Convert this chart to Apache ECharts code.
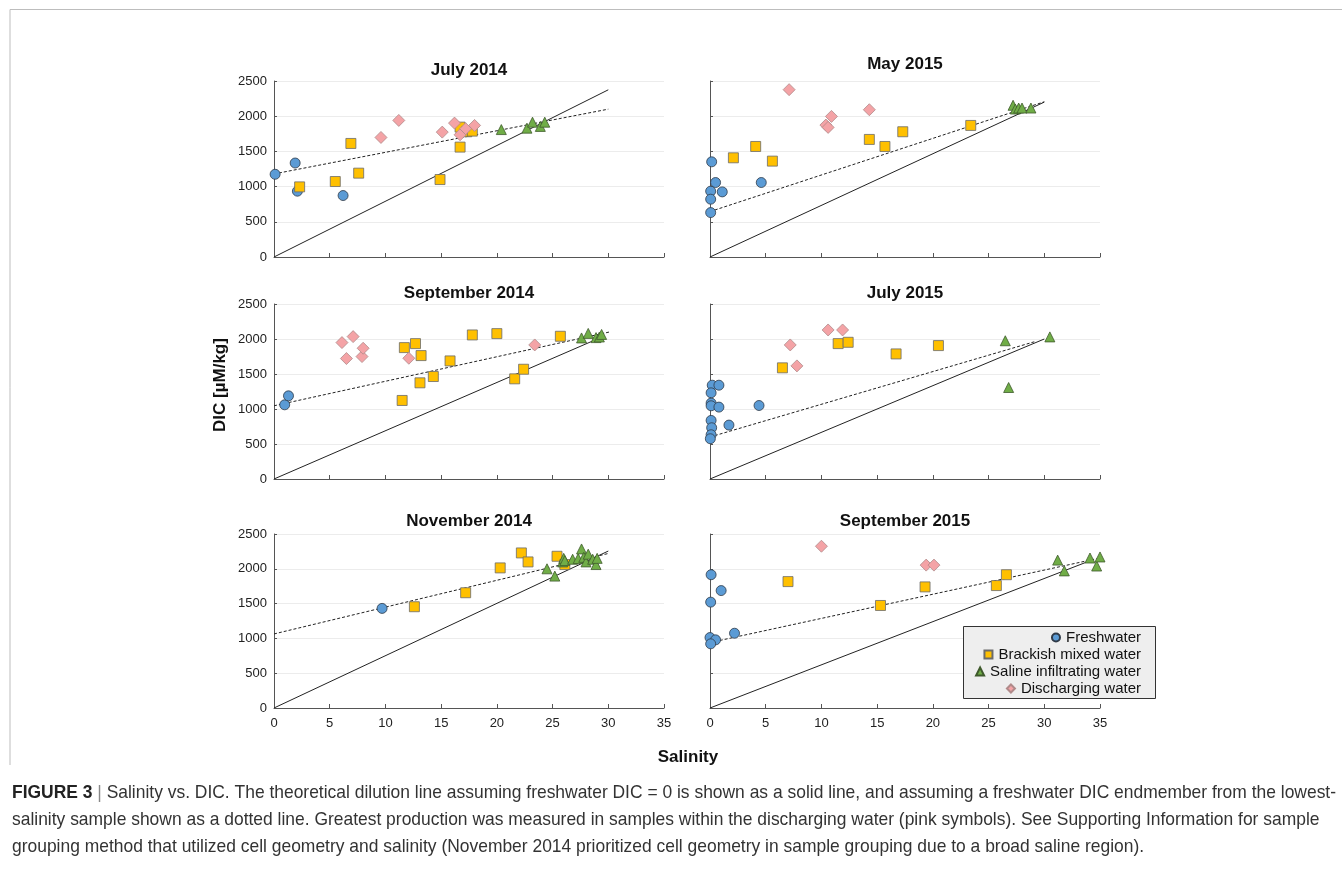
<!DOCTYPE html>
<html>
<head>
<meta charset="utf-8">
<title>Salinity vs. DIC</title>
<script src="https://cdn.jsdelivr.net/npm/echarts@6/dist/echarts.min.js"></script>
<style>
  html, body { margin: 0; padding: 0; background: #fff; }
  #chart { width: 1342px; height: 882px; }
</style>
</head>
<body>
<div id="chart"></div>
<script>
// panel titles, in grid order (left/right, top to bottom)
const panels = ['July 2014', 'May 2015', 'September 2014', 'July 2015', 'November 2014', 'September 2015'];
const groups = ['Freshwater', 'Brackish mixed water', 'Saline infiltrating water', 'Discharging water'];
const xTicks = [0, 5, 10, 15, 20, 25, 30, 35];
const yTicks = [0, 500, 1000, 1500, 2000, 2500];

// [salinity, DIC µM/kg]
const fresh = [
  [[0.1, 1175], [1.9, 1335], [2.1, 935], [6.2, 873]],
  [[0.15, 1352], [0.5, 1058], [0.06, 935], [1.1, 925], [0.06, 821], [0.06, 631], [4.6, 1058]],
  [[0.96, 1060], [1.3, 1188]],
  [[0.2, 1340], [0.8, 1340], [0.1, 1231], [0.1, 1084], [0.1, 1046], [0.8, 1027], [4.4, 1050],
   [0.1, 837], [0.15, 732], [1.7, 770], [0.1, 632], [0.03, 575]],
  [[9.7, 1431]],
  [[0.1, 1915], [1.0, 1687], [0.06, 1521], [0, 1012], [0.5, 979], [0.06, 922], [2.2, 1074]]
];
const brackish = [
  [[2.3, 996], [5.5, 1072], [6.9, 1613], [7.6, 1191], [14.9, 1100], [16.7, 1561], [16.7, 1845], [17.3, 1779], [17.8, 1788]],
  [[2.1, 1409], [4.1, 1570], [5.6, 1362], [14.3, 1670], [15.7, 1570], [17.3, 1779], [23.4, 1869]],
  [[11.5, 1122], [11.7, 1877], [12.7, 1934], [13.1, 1374], [13.2, 1763], [14.3, 1464], [15.8, 1687],
   [17.8, 2058], [20.0, 2077], [21.6, 1431], [22.4, 1568], [25.7, 2039]],
  [[6.5, 1588], [11.5, 1934], [12.4, 1953], [16.7, 1787], [20.5, 1906]],
  [[12.6, 1455], [17.2, 1656], [20.3, 2013], [22.2, 2228], [22.8, 2099], [25.4, 2180], [26.1, 2061]],
  [[7.0, 1816], [15.3, 1473], [19.3, 1740], [25.7, 1759], [26.6, 1915]]
];
const saline = [
  [[20.4, 1810], [22.7, 1830], [23.2, 1915], [23.9, 1855], [24.3, 1915]],
  [[27.2, 2155], [27.4, 2102], [27.7, 2116], [28.0, 2116], [28.8, 2116]],
  [[27.6, 2015], [28.2, 2080], [28.9, 2020], [29.2, 2029], [29.4, 2065]],
  [[26.5, 1975], [30.5, 2030], [26.8, 1307]],
  [[24.5, 2000], [25.2, 1895], [25.9, 2099], [26.0, 2150], [26.1, 2118], [26.8, 2137], [27.3, 2147],
   [27.6, 2285], [27.8, 2165], [28.0, 2099], [28.2, 2210], [28.6, 2137], [28.9, 2061], [29.0, 2150]],
  [[31.2, 2125], [31.8, 1970], [34.1, 2155], [34.7, 2040], [35.0, 2170]]
];
const discharging = [
  [[9.6, 1698], [11.2, 1940], [15.1, 1774], [16.2, 1902], [16.7, 1736], [17.2, 1822], [18.0, 1869]],
  [[7.1, 2377], [10.4, 1874], [10.6, 1841], [10.9, 1997], [14.3, 2092]],
  [[6.1, 1949], [6.5, 1721], [7.1, 2034], [7.9, 1749], [8.0, 1868], [12.1, 1725], [23.4, 1915]],
  [[7.2, 1915], [7.8, 1616], [10.6, 2129], [11.9, 2129]],
  [],
  [[10.0, 2324], [19.4, 2053], [20.1, 2053]]
];
// dilution lines: freshwater DIC = 0 (solid) and lowest-salinity endmember (dotted)
const solidLine = [
  [[0, 0], [30, 2375]],
  [[0, 0], [30, 2200]],
  [[0, 0], [29.3, 2020]],
  [[0, 0], [30, 2000]],
  [[0, 0], [30, 2255]],
  [[0, 0], [34.1, 2115]]
];
const dottedLine = [
  [[0, 1180], [30, 2100]],
  [[0, 645], [30, 2205]],
  [[0, 1046], [30.1, 2100]],
  [[0, 600], [29.1, 1960]],
  [[0, 1064], [30, 2220]],
  [[0, 940], [34.7, 2145]]
];

const captionLines = [
  'Salinity vs. DIC. The theoretical dilution line assuming freshwater DIC = 0 is shown as a solid line, and assuming a freshwater DIC endmember from the lowest-',
  'salinity sample shown as a dotted line. Greatest production was measured in samples within the discharging water (pink symbols). See Supporting Information for sample',
  'grouping method that utilized cell geometry and salinity (November 2014 prioritized cell geometry in sample grouping due to a broad saline region).'
];

const font = '"Liberation Sans", Arial, sans-serif';
const colLeft = [274, 710];
const rowTop = [81, 304, 534];
const rowH = [176, 175, 174];
const plotW = 390;
const titleY = [62, 56, 285, 285, 513, 513];

const styles = [
  { symbol: 'circle', size: 10, color: '#5b9bd5', border: '#2f3a48' },
  { symbol: 'rect', size: 10, color: '#ffc000', border: '#6b6b6b' },
  { symbol: 'triangle', size: 10, color: '#70ad47', border: '#3f5a2c' },
  { symbol: 'diamond', size: 12, color: '#f4a3a6', border: '#b08a8a' }
];
const sets = [fresh, brackish, saline, discharging];

const grid = [], xAxis = [], yAxis = [], title = [], series = [];
panels.forEach((name, i) => {
  const col = i % 2, row = Math.floor(i / 2);
  grid.push({ left: colLeft[col], top: rowTop[row], width: plotW, height: rowH[row] });
  title.push({
    text: name, left: colLeft[col] + plotW / 2, top: titleY[i], textAlign: 'center', padding: 0,
    textStyle: { fontFamily: font, fontSize: 17, fontWeight: 'bold', color: '#111' }
  });
  xAxis.push({
    type: 'value', gridIndex: i, min: xTicks[0], max: xTicks[xTicks.length - 1], interval: 5,
    axisLine: { show: true, onZero: false, lineStyle: { color: '#555', width: 1 } },
    axisTick: { show: true, inside: true, length: 4, lineStyle: { color: '#555' } },
    axisLabel: { show: row === 2, color: '#222', fontSize: 13, fontFamily: font, margin: 9 },
    splitLine: { show: false }
  });
  yAxis.push({
    type: 'value', gridIndex: i, min: yTicks[0], max: yTicks[yTicks.length - 1], interval: 500,
    axisLine: { show: true, onZero: false, lineStyle: { color: '#555', width: 1 } },
    axisTick: { show: true, inside: true, length: 3, lineStyle: { color: '#555' } },
    axisLabel: { show: col === 0, color: '#222', fontSize: 13, fontFamily: font, margin: 7,
      formatter: v => String(v) },
    splitLine: { show: true, lineStyle: { color: '#ececec', width: 1 } }
  });
  series.push({
    type: 'line', xAxisIndex: i, yAxisIndex: i, data: solidLine[i], symbol: 'none', silent: true, z: 1,
    lineStyle: { color: '#222', width: 1 }
  });
  series.push({
    type: 'line', xAxisIndex: i, yAxisIndex: i, data: dottedLine[i], symbol: 'none', silent: true, z: 1,
    lineStyle: { color: '#222', width: 1, type: [3, 2] }
  });
  sets.forEach((set, k) => {
    const s = styles[k];
    series.push({
      name: groups[k], type: 'scatter', xAxisIndex: i, yAxisIndex: i, data: set[i],
      symbol: s.symbol, symbolSize: s.size, z: 3,
      itemStyle: { color: s.color, borderColor: s.border, borderWidth: 0.8, opacity: 1 }
    });
  });
});

// one legend per row so the entries sit right-aligned like the original
const legendTop = [630, 647, 664, 681];
const legend = groups.map((g, k) => ({
  data: [{ name: g, icon: styles[k].symbol }],
  right: 201, top: legendTop[k], padding: 0, itemWidth: 8, itemHeight: 8,
  selectedMode: false, z: 6,
  textStyle: { fontFamily: font, fontSize: 15, color: '#111', padding: [0, 0, 0, 1] }
}));

// caption is set in a condensed face in the original; squeeze a regular face to the same width
const capSize = 19;
const capFont = capSize + 'px ' + font;
const capBold = 'bold ' + capFont;
const ctx = document.createElement('canvas').getContext('2d');
ctx.font = capBold;
let w1 = ctx.measureText('FIGURE 3 ').width;
ctx.font = capFont;
w1 += ctx.measureText('| ' + captionLines[0]).width;
const capScale = 1324 / w1;

const option = {
  backgroundColor: '#fff',
  animation: false,
  title, grid, xAxis, yAxis, series, legend,
  graphic: [
    { type: 'polyline', shape: { points: [[10, 765], [10, 9.5], [1342, 9.5]] },
      style: { stroke: '#bdbdbd', lineWidth: 1, fill: null }, silent: true },
    { type: 'rect', z: 5, shape: { x: 963.5, y: 626.5, width: 192, height: 72 },
      style: { fill: '#eeeeee', stroke: '#333', lineWidth: 1 }, silent: true },
    { type: 'text', x: 220, y: 385, rotation: Math.PI / 2,
      style: { text: 'DIC [µM/kg]', font: 'bold 17px ' + font, fill: '#111', textAlign: 'center', textVerticalAlign: 'middle' } },
    { type: 'text', x: 688, y: 757,
      style: { text: 'Salinity', font: 'bold 17px ' + font, fill: '#111', textAlign: 'center', textVerticalAlign: 'middle' } },
    { type: 'text', x: 12, y: 779, scaleX: capScale,
      style: {
        text: '{b|FIGURE 3} {s||} ' + captionLines.join('\n'),
        font: capFont, fill: '#333', lineHeight: 27,
        rich: {
          b: { font: capBold, fill: '#222', lineHeight: 27 },
          s: { font: capFont, fill: '#888', lineHeight: 27 }
        }
      } }
  ]
};

const chart = echarts.init(document.getElementById('chart'));
chart.setOption(option);
</script>
</body>
</html>
